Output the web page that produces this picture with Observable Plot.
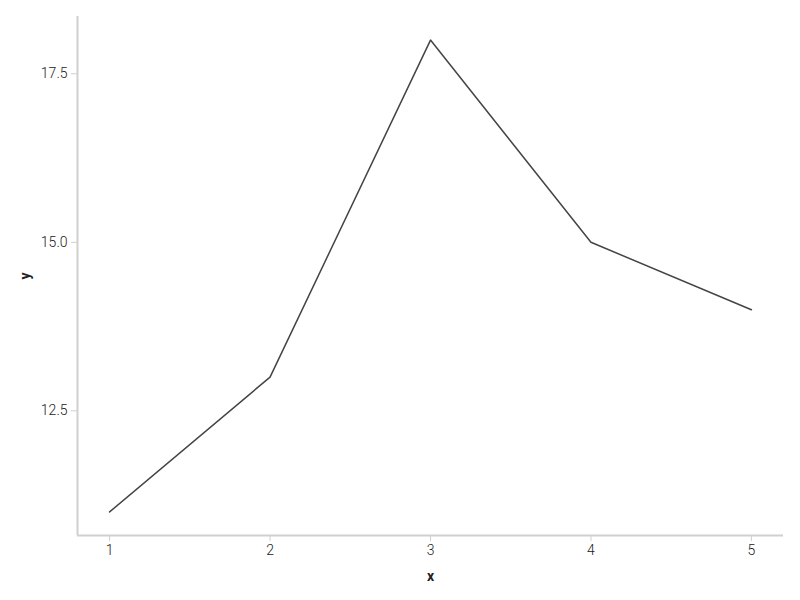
<!DOCTYPE html>
<html>
<head>
<meta charset="utf-8">
<script src="https://cdn.jsdelivr.net/npm/d3@7"></script>
<script src="https://cdn.jsdelivr.net/npm/@observablehq/plot@0.6"></script>
<style>
  body { margin: 0; background: #fff; }
  #chart svg { font-family: Roboto, "Noto Sans", sans-serif; }
  g[aria-label="x-axis label"] text, g[aria-label="y-axis label"] text { font-weight: bold; fill: #222; font-size: 14px; }
  g[aria-label="x-axis tick label"] text, g[aria-label="y-axis tick label"] text { font-weight: 300; }
</style>
</head>
<body>
<div id="chart"></div>
<script>
const xs = [1, 2, 3, 4, 5];
const ys = [11, 13, 18, 15, 14];
const yTicks = [12.5, 15.0, 17.5];
const xTicks = [1, 2, 3, 4, 5];
const xDomain = [0.8, 5.2];
const yDomain = [10.65, 18.35];

const data = xs.map((x, i) => ({x, y: ys[i]}));

const chart = Plot.plot({
  width: 800,
  height: 600,
  marginLeft: 77,
  marginRight: 17,
  marginTop: 16,
  marginBottom: 65,
  style: {fontSize: "14px", color: "#222", background: "#fff"},
  x: {domain: xDomain},
  y: {domain: yDomain},
  marks: [
    Plot.axisX({ticks: xTicks, tickFormat: d3.format("d"), stroke: "#cfcfcf", fill: "#222", tickSize: 6, tickPadding: 4,
      label: "x", labelAnchor: "center", labelArrow: "none", labelOffset: 45}),
    Plot.axisY({ticks: yTicks, tickFormat: d3.format(".1f"), stroke: "#cfcfcf", fill: "#222", tickSize: 6, tickPadding: 4,
      label: "y", labelAnchor: "center", labelArrow: "none", labelOffset: 57}),
    Plot.ruleY([yDomain[0]], {stroke: "#d0d0d0", strokeWidth: 2}),
    Plot.ruleX([xDomain[0]], {stroke: "#d0d0d0", strokeWidth: 2}),
    Plot.line(data, {x: "x", y: "y", stroke: "#444", strokeWidth: 1.5})
  ]
});
document.getElementById("chart").append(chart);
</script>
</body>
</html>
